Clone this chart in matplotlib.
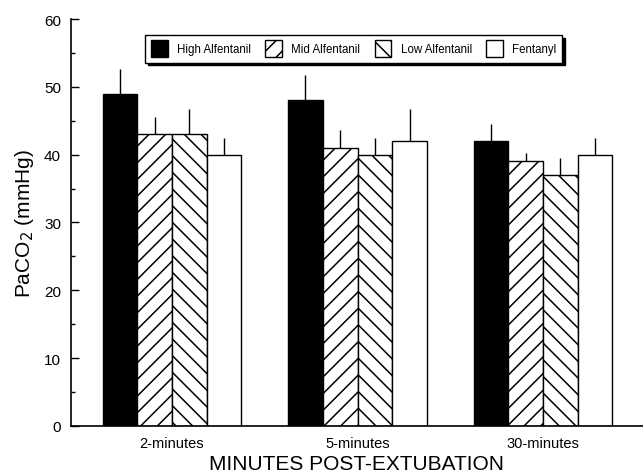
import numpy as np
import matplotlib as mpl
import matplotlib.pyplot as plt
from matplotlib.ticker import MultipleLocator

times = ["2-minutes", "5-minutes", "30-minutes"]
groups = ["High Alfentanil", "Mid Alfentanil", "Low Alfentanil", "Fentanyl"]

high = [49, 48, 42]
high_err = [3.7, 3.7, 2.5]
mid = [43, 41, 39]
mid_err = [2.6, 2.6, 1.2]
low = [43, 40, 37]
low_err = [3.7, 2.5, 2.5]
fent = [40, 42, 40]
fent_err = [2.4, 4.7, 2.5]

mpl.rcParams['font.family'] = ['Liberation Sans', 'DejaVu Sans']
mpl.rcParams['hatch.linewidth'] = 1.1

fig = plt.figure(figsize=(6.43, 4.77), dpi=100)
ax = fig.add_axes([0.110, 0.105, 0.890, 0.853])

x = np.arange(len(times))
w = 0.187
values = [high, mid, low, fent]
errors = [high_err, mid_err, low_err, fent_err]
faces = ["black", "white", "white", "white"]
hatches = [None, "//", "\\\\", None]

for i, (vals, errs) in enumerate(zip(values, errors)):
    pos = x + (i - 1.5) * w
    ax.bar(pos, vals, w, color=faces[i], edgecolor="black", hatch=hatches[i],
           linewidth=1.0, label=groups[i], zorder=2)
    # upper error bar only, no caps
    ax.vlines(pos, vals, np.array(vals) + np.array(errs), color="black", lw=1.0, zorder=3)

ax.set_xlim(-0.546, 2.539)
ax.set_ylim(0, 60)
ax.yaxis.set_major_locator(MultipleLocator(10))
ax.yaxis.set_minor_locator(MultipleLocator(5))
ax.tick_params(axis="y", direction="in", length=6, width=1, labelsize=11, pad=7)
ax.tick_params(axis="y", which="minor", direction="in", length=3, width=1)
ax.set_xticks(x)
ax.set_xticklabels(times)
ax.tick_params(axis="x", length=0, labelsize=10.5, pad=7)

ax.spines["top"].set_visible(False)
ax.spines["right"].set_visible(False)
ax.spines["left"].set_linewidth(1.2)
ax.spines["bottom"].set_linewidth(1.2)

ax.set_xlabel("MINUTES POST-EXTUBATION", fontsize=15, labelpad=3)
ax.set_ylabel("PaCO$_2$ (mmHg)", fontsize=15, labelpad=6)

leg = ax.legend(loc="lower left", bbox_to_anchor=(0.130, 0.893, 0.729, 0.07),
                mode="expand", ncol=4, fontsize=8.3, frameon=True, fancybox=False,
                shadow={"color": "black", "alpha": 1.0}, edgecolor="black",
                handlelength=1.45, handleheight=1.8, handletextpad=0.8,
                columnspacing=0.6, borderaxespad=0, borderpad=0.5)
leg.get_frame().set_linewidth(1.0)

plt.savefig("out.png", dpi=100)
